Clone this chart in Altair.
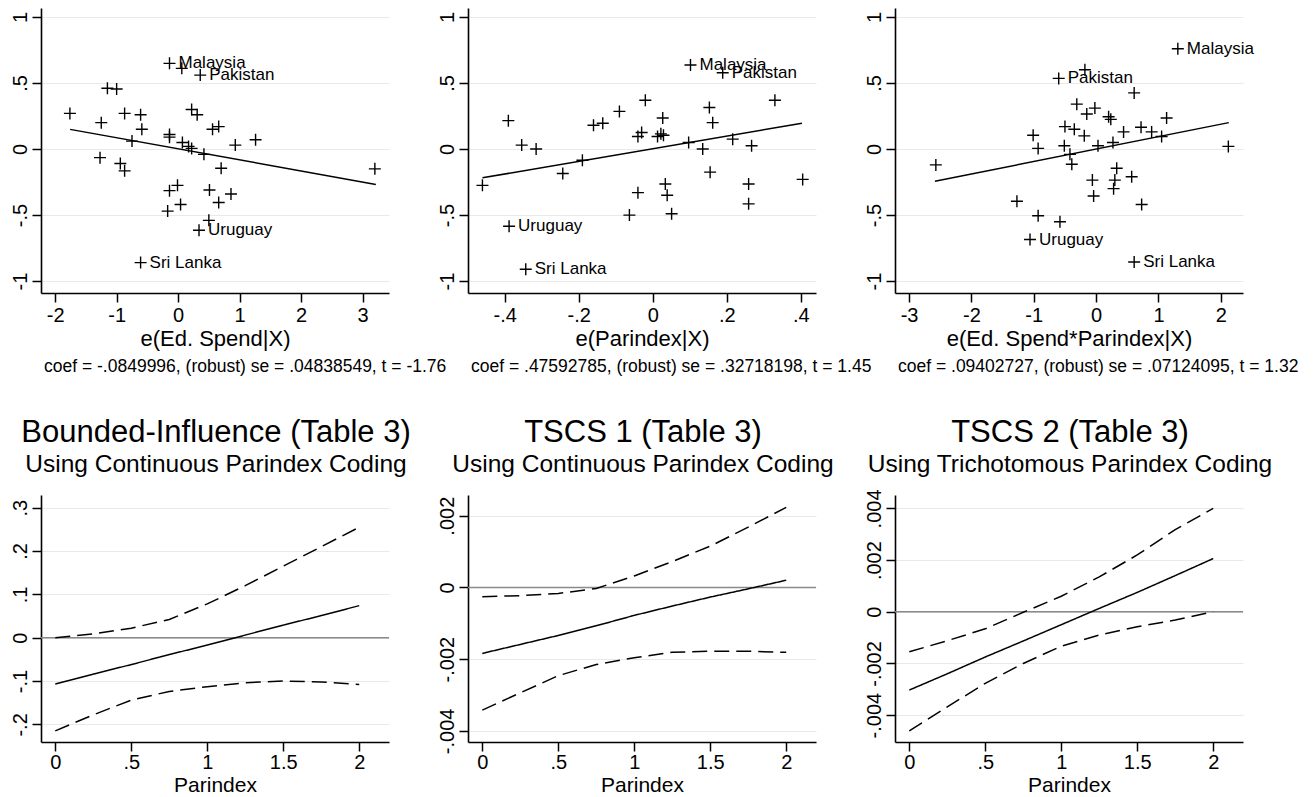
import altair as alt
import pandas as pd

FONT = "Liberation Sans"

# ---------------- Added-variable plots (top row) ----------------
labels4 = ["Malaysia", "Pakistan", "Uruguay", "Sri Lanka"]

ed_x = [-0.14, 0.36, 0.34, -0.61, 0.06, -1.15, -1.0, -1.76, -1.25, -0.87, -0.61, -0.59, -0.75,
        0.22, 0.31, -0.14, -0.14, 0.07, 0.17, 0.22, 0.42, 0.56, 0.66, 0.93, 1.26, 3.2, -1.27,
        -0.94, -0.87, 0.70, -0.01, -0.14, 0.04, -0.17, 0.51, 0.66, 0.86, 0.50]
ed_y = [0.649, 0.56, -0.615, -0.86, 0.611, 0.46, 0.455, 0.27, 0.20, 0.27, 0.26, 0.15, 0.06,
        0.30, 0.26, 0.11, 0.09, 0.05, 0.02, 0.005, -0.04, 0.15, 0.17, 0.03, 0.07, -0.15, -0.065,
        -0.11, -0.165, -0.145, -0.275, -0.315, -0.42, -0.47, -0.31, -0.405, -0.34, -0.54]
ed_fit_x = [-1.757, 3.216]
ed_fit_y = [0.149, -0.268]

par_x = [0.102, 0.189, -0.388, -0.343, 0.33, -0.02, -0.09, -0.39, -0.16, -0.135, 0.027, 0.153,
         0.162, -0.04, -0.03, 0.013, 0.022, 0.029, 0.097, 0.216, 0.267, 0.135, -0.354, -0.315,
         -0.19, -0.243, -0.46, 0.155, 0.405, 0.259, 0.259, 0.034, 0.039, -0.04, -0.063, 0.051]
par_y = [0.636, 0.578, -0.585, -0.91, 0.37, 0.37, 0.285, 0.215, 0.18, 0.195, 0.235, 0.315,
         0.20, 0.095, 0.125, 0.095, 0.115, 0.105, 0.05, 0.075, 0.025, 0.0, 0.03, 0.0,
         -0.085, -0.185, -0.275, -0.175, -0.23, -0.265, -0.415, -0.265, -0.35, -0.33, -0.50, -0.49]
par_fit_x = [-0.46, 0.403]
par_fit_y = [-0.218, 0.195]

int_x = [1.31, -0.60, -1.06, 0.61, -0.18, 0.61, -0.31, -0.02, -0.15, 0.20, 0.235, 1.13, -0.50,
         -0.35, -0.19, 0.44, 0.72, 0.89, 1.05, -1.01, -0.93, -0.51, 0.03, 0.27, -0.42, -0.39,
         -2.57, 2.12, 0.33, 0.30, 0.28, 0.57, -0.06, -0.04, -1.27, -0.93, -0.58, 0.73]
int_y = [0.76, 0.535, -0.685, -0.855, 0.60, 0.425, 0.34, 0.31, 0.265, 0.245, 0.225, 0.235, 0.17,
         0.15, 0.10, 0.13, 0.165, 0.13, 0.095, 0.105, 0.005, 0.025, 0.025, 0.05, -0.04, -0.115,
         -0.12, 0.02, -0.145, -0.235, -0.30, -0.21, -0.235, -0.355, -0.395, -0.505, -0.55, -0.42]
int_fit_x = [-2.585, 2.127]
int_fit_y = [-0.244, 0.20]

avp_y_ticks = [-1, -0.5, 0, 0.5, 1]
avp_y_labels = ["-1", "-.5", "0", ".5", "1"]
ed_x_ticks = [-2, -1, 0, 1, 2, 3]
ed_x_labels = ["-2", "-1", "0", "1", "2", "3"]
par_x_ticks = [-0.4, -0.2, 0, 0.2, 0.4]
par_x_labels = ["-.4", "-.2", "0", ".2", ".4"]
int_x_ticks = [-3, -2, -1, 0, 1, 2]
int_x_labels = ["-3", "-2", "-1", "0", "1", "2"]

notes = ["coef = -.0849996, (robust) se = .04838549, t = -1.76",
         "coef = .47592785, (robust) se = .32718198, t = 1.45",
         "coef = .09402727, (robust) se = .07124095, t = 1.32"]

# ---------------- Marginal-effect plots (bottom row) ----------------
pgrid = [0, 0.25, 0.5, 0.75, 1.0, 1.25, 1.5, 1.75, 2.0]

bi_est = [-0.107, -0.084, -0.062, -0.039, -0.017, 0.006, 0.029, 0.051, 0.074]
bi_hi = [0.0, 0.009, 0.022, 0.042, 0.078, 0.120, 0.165, 0.210, 0.255]
bi_lo = [-0.215, -0.178, -0.144, -0.124, -0.113, -0.104, -0.100, -0.102, -0.108]

t1_est = [-0.00184, -0.00159, -0.00134, -0.00107, -0.00078, -0.00052, -0.00027, -0.00004, 0.00020]
t1_hi = [-0.00026, -0.00023, -0.00017, -0.00003, 0.00032, 0.00072, 0.00115, 0.00168, 0.00223]
t1_lo = [-0.00342, -0.00294, -0.00246, -0.00215, -0.00196, -0.00181, -0.00178, -0.00178, -0.00181]

t2_est = [-0.00303, -0.0024, -0.00175, -0.00113, -0.0005, 0.00013, 0.00075, 0.0014, 0.00206]
t2_hi = [-0.00155, -0.00112, -0.00066, -0.00002, 0.0006, 0.00135, 0.0022, 0.00318, 0.0040]
t2_lo = [-0.00461, -0.00368, -0.00277, -0.002, -0.00133, -0.0009, -0.00058, -0.00032, 0.0]

me_x_ticks = [0, 0.5, 1, 1.5, 2]
me_x_labels = ["0", ".5", "1", "1.5", "2"]
bi_y_ticks = [-0.2, -0.1, 0, 0.1, 0.2, 0.3]
bi_y_labels = ["-.2", "-.1", "0", ".1", ".2", ".3"]
t1_y_ticks = [-0.004, -0.002, 0, 0.002]
t1_y_labels = ["-.004", "-.002", "0", ".002"]
t2_y_ticks = [-0.004, -0.002, 0, 0.002, 0.004]
t2_y_labels = ["-.004", "-.002", "0", ".002", ".004"]

titles = ["Bounded-Influence (Table 3)", "TSCS 1 (Table 3)", "TSCS 2 (Table 3)"]
subtitles = ["Using Continuous Parindex Coding", "Using Continuous Parindex Coding",
             "Using Trichotomous Parindex Coding"]

# ---------------- layout / style ----------------
W = 348
H_TOP = 285
H_BOT = 247
TICK_FS = 20


def label_expr(vals, labs):
    expr = "''"
    for v, l in reversed(list(zip(vals, labs))):
        expr = f"datum.value == {v} ? '{l}' : ({expr})"
    return expr


def x_axis(vals, labs, title, label_pad, title_pad, title_fs):
    return alt.Axis(values=vals, labelExpr=label_expr(vals, labs), title=title, grid=False,
                    labelFontSize=TICK_FS, titleFontSize=title_fs, titleFontWeight="normal",
                    labelPadding=label_pad, titlePadding=title_pad, labelFlush=False,
                    labelOverlap=False, tickSize=9, titleFont=FONT, labelFont=FONT)


def y_axis(vals, labs):
    return alt.Axis(values=vals, labelExpr=label_expr(vals, labs), title=None, grid=True,
                    gridColor="#e9e9e9", gridWidth=1.2, labelFontSize=TICK_FS, labelAngle=270,
                    labelAlign="center", labelBaseline="alphabetic", labelPadding=6,
                    tickSize=9, labelFlush=False, labelOverlap=False, labelFont=FONT)


plus = "M-1,0L1,0M0,-1L0,1"


def avp_panel(xs, ys, fx, fy, xdom, xt, xl, xtitle, note):
    df = pd.DataFrame({"x": xs, "y": ys,
                       "lab": labels4 + [""] * (len(xs) - len(labels4))})
    fit = pd.DataFrame({"x": fx, "y": fy})
    X = alt.X("x:Q", scale=alt.Scale(domain=xdom, nice=False, zero=False),
              axis=x_axis(xt, xl, xtitle, 3, 3, 22))
    Y = alt.Y("y:Q", scale=alt.Scale(domain=[-1.09, 1.068], nice=False, zero=False),
              axis=y_axis(avp_y_ticks, avp_y_labels))
    pts = alt.Chart(df).mark_point(shape=plus, size=144, filled=False, color="black",
                                   strokeWidth=1.4, opacity=1).encode(x=X, y=Y)
    txt = alt.Chart(df).transform_filter("datum.lab != ''").mark_text(
        align="left", baseline="middle", dx=9, fontSize=17, font=FONT, color="black"
    ).encode(x=X, y=Y, text="lab:N")
    line = alt.Chart(fit).mark_line(color="black", strokeWidth=1.5).encode(x=X, y=Y)
    note_df = pd.DataFrame({"note": [note]})
    nt = alt.Chart(note_df).mark_text(align="left", baseline="middle", fontSize=17.5, font=FONT,
                                      color="black").encode(
        x=alt.value(3), y=alt.value(H_TOP + 74), text="note:N")
    return alt.layer(line, pts, txt, nt).properties(width=W, height=H_TOP)


def me_panel(est, hi, lo, ydom, yt, yl, title, subtitle):
    rows = []
    for name, vals in (("est", est), ("upper", hi), ("lower", lo)):
        for xv, yv in zip(pgrid, vals):
            rows.append({"x": xv, "y": yv, "series": name})
    df = pd.DataFrame(rows)
    X = alt.X("x:Q", scale=alt.Scale(domain=[-0.094, 2.196], nice=False, zero=False),
              axis=x_axis(me_x_ticks, me_x_labels, "Parindex", 1, 2, 21))
    Y = alt.Y("y:Q", scale=alt.Scale(domain=ydom, nice=False, zero=False),
              axis=y_axis(yt, yl))
    zero = alt.Chart(pd.DataFrame({"y": [0]})).mark_rule(color="#8a8a8a", strokeWidth=1.5).encode(y=Y)
    lines = alt.Chart(df).mark_line(color="black", strokeWidth=1.5).encode(
        x=X, y=Y, detail="series:N",
        strokeDash=alt.StrokeDash("series:N", legend=None,
                                  scale=alt.Scale(domain=["est", "upper", "lower"],
                                                  range=[[1, 0], [15, 7], [15, 7]])))
    head = pd.DataFrame({"t": [title], "s": [subtitle]})
    t1 = alt.Chart(head).mark_text(align="center", baseline="middle", fontSize=31, font=FONT,
                                   color="black").encode(
        x=alt.value(W / 2 + 1), y=alt.value(-62), text="t:N")
    t2 = alt.Chart(head).mark_text(align="center", baseline="middle", fontSize=24.5, font=FONT,
                                   color="black").encode(
        x=alt.value(W / 2 + 1), y=alt.value(-30), text="s:N")
    return alt.layer(zero, lines, t1, t2).properties(width=W, height=H_BOT)


p1 = avp_panel(ed_x, ed_y, ed_fit_x, ed_fit_y, [-2.23, 3.43], ed_x_ticks, ed_x_labels,
               "e(Ed. Spend|X)", notes[0])
p2 = avp_panel(par_x, par_y, par_fit_x, par_fit_y, [-0.499, 0.441], par_x_ticks, par_x_labels,
               "e(Parindex|X)", notes[1])
p3 = avp_panel(int_x, int_y, int_fit_x, int_fit_y, [-3.225, 2.355], int_x_ticks, int_x_labels,
               "e(Ed. Spend*Parindex|X)", notes[2])

p4 = me_panel(bi_est, bi_hi, bi_lo, [-0.2407, 0.3293], bi_y_ticks, bi_y_labels, titles[0], subtitles[0])
p5 = me_panel(t1_est, t1_hi, t1_lo, [-0.00431, 0.002576], t1_y_ticks, t1_y_labels, titles[1], subtitles[1])
p6 = me_panel(t2_est, t2_hi, t2_lo, [-0.00504, 0.00452], t2_y_ticks, t2_y_labels, titles[2], subtitles[2])

chart = alt.concat(p1, p2, p3, p4, p5, p6, columns=3,
                   spacing={"row": 202, "column": 79}, bounds="flush").properties(
    padding={"left": 2, "top": 0, "right": 5, "bottom": 5}
).configure(font=FONT).configure_view(strokeWidth=0).configure_axis(
    domainColor="black", domainWidth=1.6, tickColor="black", tickWidth=1.5, tickSize=9,
    labelColor="black", titleColor="black"
)

chart.save("out.html", embed_options={"renderer": "svg", "actions": False})
